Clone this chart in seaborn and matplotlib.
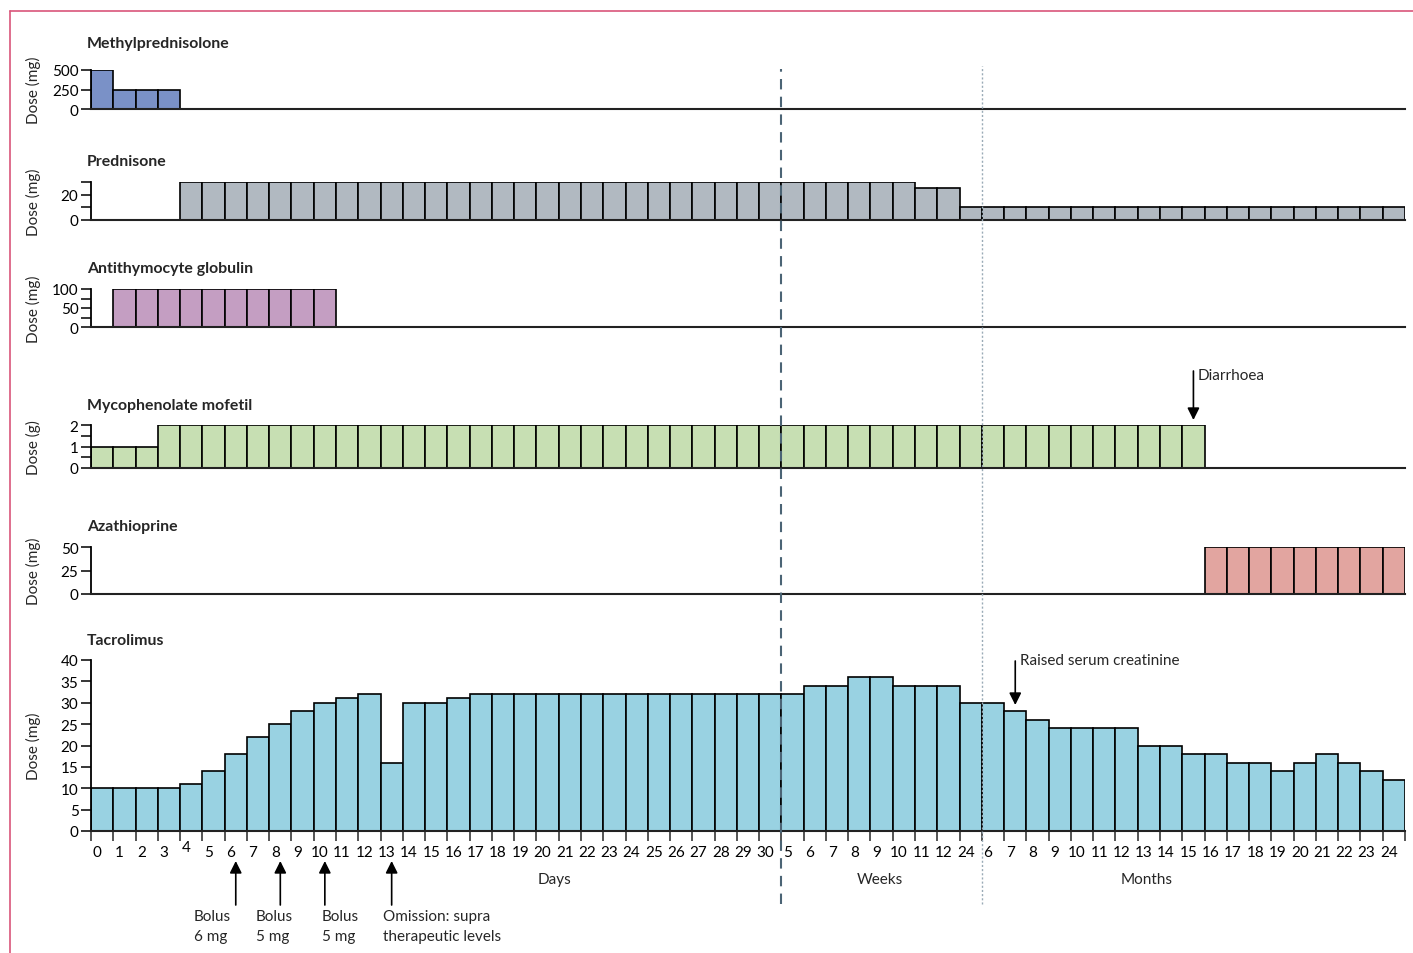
import numpy as np
import pandas as pd
import matplotlib
matplotlib.use("Agg")
import matplotlib.pyplot as plt
from matplotlib.transforms import ScaledTranslation
import seaborn as sns

# ------------------------------------------
# Data: one slot per time point (59 slots)
# ------------------------------------------
day_labels = [str(d) for d in range(0, 31)]
week_labels = ["5", "6", "7", "8", "9", "10", "11", "12", "24"]
month_labels = [str(m) for m in range(6, 25)]
slot_labels = day_labels + week_labels + month_labels
n_slots = len(slot_labels)

methylpred = [500, 250, 250, 250] + [0] * 55
prednisone = [0] * 4 + [30] * 33 + [25] * 2 + [10] * 20
atg = [0] + [100] * 10 + [0] * 48
mmf = [1, 1, 1] + [2] * 47 + [0] * 9
azathioprine = [0] * 50 + [50] * 9
tacrolimus = ([10, 10, 10, 10, 11, 14, 18, 22, 25, 28, 30, 31, 32, 16, 30, 30, 31]
              + [32] * 14
              + [32, 34, 34, 36, 36, 34, 34, 34, 30]
              + [30, 28, 26, 24, 24, 24, 24, 20, 20, 18, 18, 16, 16, 14, 16, 18, 16, 14, 12])

drugs = ["Methylprednisolone", "Prednisone", "Antithymocyte globulin",
         "Mycophenolate mofetil", "Azathioprine", "Tacrolimus"]
units = ["Dose (mg)", "Dose (mg)", "Dose (mg)", "Dose (g)", "Dose (mg)", "Dose (mg)"]
doses = [methylpred, prednisone, atg, mmf, azathioprine, tacrolimus]
colors = ["#7a91c7", "#b1b9c1", "#c49ec2", "#c7dfb3", "#e2a5a0", "#99d2e2"]
ymax = [500, 30, 100, 2, 50, 40]
major_ticks = [[0, 250, 500], [0, 20], [0, 50, 100], [0, 1, 2], [0, 25, 50], list(range(0, 41, 5))]
minor_ticks = [[], [10, 30], [25, 75], [0.5, 1.5], [], []]

# pixel layout of each panel: (y of zero line, y of top tick), title y
panel_px = [(110, 71), (221, 183), (328, 290), (469, 426), (595, 548), (832, 661)]
title_px = [44, 162, 269, 406, 527, 641]

W, H = 1413, 954
LEFT, RIGHT = 91, 1405
FS = 11

sns.set_style("white")
plt.rcParams["font.family"] = ["Lato", "DejaVu Sans"]
plt.rcParams["axes.linewidth"] = 1.3

fig = plt.figure(figsize=(W / 100, H / 100), dpi=100)


def fy(y):
    return 1 - y / H


axes = []
for i, drug in enumerate(drugs):
    y0, y1 = panel_px[i]
    ax = fig.add_axes([LEFT / W, fy(y0), (RIGHT - LEFT) / W, (y0 - y1) / H])
    df = pd.DataFrame({"slot": np.arange(n_slots), "dose": doses[i]})
    sns.barplot(data=df, x="slot", y="dose", order=list(range(n_slots)),
                color=colors[i], saturation=1, width=1.0,
                edgecolor="black", linewidth=1.2, ax=ax)
    ax.set_xlim(-0.5, n_slots - 0.5)
    ax.set_ylim(0, ymax[i])
    sns.despine(ax=ax, top=True, right=True)
    ax.spines["left"].set_color("black")
    ax.spines["bottom"].set_color("#222222")
    ax.spines["bottom"].set_linewidth(1.5)

    ax.set_yticks(major_ticks[i])
    ax.set_yticklabels([f"{t:g}" for t in major_ticks[i]])
    ax.set_yticks(minor_ticks[i], minor=True)
    ax.tick_params(axis="y", which="both", direction="out", length=7, width=1.1,
                   left=True, labelsize=FS, pad=2, colors="black")
    ax.set_ylabel(units[i], fontsize=FS)
    ax.yaxis.set_label_coords((41 - LEFT) / (RIGHT - LEFT), 0.5)
    ax.set_xlabel("")
    fig.text((LEFT - 4) / W, fy(title_px[i]), drug, fontsize=11.4,
             fontweight="bold", va="center", ha="left")
    axes.append(ax)

for ax in axes[:-1]:
    ax.set_xticks([])

# bottom axis: tick marks at slot edges, labels in slots
tac = axes[-1]
tac.set_xticks(np.arange(-0.5, n_slots, 1.0))
tac.set_xticklabels([])
tac.set_xticks(np.arange(n_slots), minor=True)
tac.set_xticklabels(slot_labels, minor=True)
tac.tick_params(axis="x", which="major", direction="out", length=7, width=1.1, bottom=True)
tac.tick_params(axis="x", which="minor", length=0, labelsize=FS, pad=10, colors="black")
for k, lab in enumerate(tac.get_xticklabels(minor=True)):
    dy = 5 / 100 if k == 4 else 0
    lab.set_transform(lab.get_transform() + ScaledTranslation(-5 / 100, dy, fig.dpi_scale_trans))

# period labels
for txt, xc in [("Days", 20.3), ("Weeks", 34.9), ("Months", 46.9)]:
    tac.annotate(txt, xy=(xc, fy(880)), xycoords=("data", "figure fraction"),
                 ha="center", va="center", fontsize=FS)

# separators between days / weeks / months
span = 832 - 661
tac.axvline(30.5, ymin=(832 - 905) / span, ymax=(832 - 70) / span, clip_on=False,
            color="#4b6475", lw=1.5, ls=(0, (5, 3.5)), zorder=5)
tac.axvline(39.5, ymin=(832 - 905) / span, ymax=(832 - 67) / span, clip_on=False,
            color="#9aabb7", lw=1.0, ls=(0, (1.5, 1.5)), zorder=5)

arrow = dict(arrowstyle="-|>", color="black", lw=1.2, mutation_scale=18, shrinkA=0, shrinkB=0)

# bolus / omission events
events = [(6, 4.13, "Bolus\n6 mg"), (8, 6.91, "Bolus\n5 mg"),
          (10, 9.87, "Bolus\n5 mg"), (13, 12.61, "Omission: supra\ntherapeutic levels")]
for slot, xt, txt in events:
    tac.annotate("", xy=(slot, fy(862)), xytext=(slot, fy(906)),
                 xycoords=("data", "figure fraction"), textcoords=("data", "figure fraction"),
                 arrowprops=arrow)
    tac.annotate(txt, xy=(xt, fy(910)), xycoords=("data", "figure fraction"),
                 ha="left", va="top", fontsize=FS, linespacing=1.55)

# raised creatinine
tac.annotate("", xy=(41, fy(706)), xytext=(41, fy(662)),
             xycoords=("data", "figure fraction"), textcoords=("data", "figure fraction"),
             arrowprops=arrow)
tac.annotate("Raised serum creatinine", xy=(41.2, fy(661)), xycoords=("data", "figure fraction"),
             ha="left", va="center", fontsize=FS)

# diarrhoea
mm = axes[3]
mm.annotate("", xy=(49, fy(421)), xytext=(49, fy(372)),
            xycoords=("data", "figure fraction"), textcoords=("data", "figure fraction"),
            arrowprops=arrow)
mm.annotate("Diarrhoea", xy=(49.2, fy(376)), xycoords=("data", "figure fraction"),
            ha="left", va="center", fontsize=FS)

# frame lines at top and left of the figure
fig.add_artist(plt.Line2D([10 / W, 1], [fy(12), fy(12)], color="#d9557a", lw=1.2))
fig.add_artist(plt.Line2D([10 / W, 10 / W], [0, fy(12)], color="#d9557a", lw=1.2))

fig.savefig("out.png", dpi=100)
